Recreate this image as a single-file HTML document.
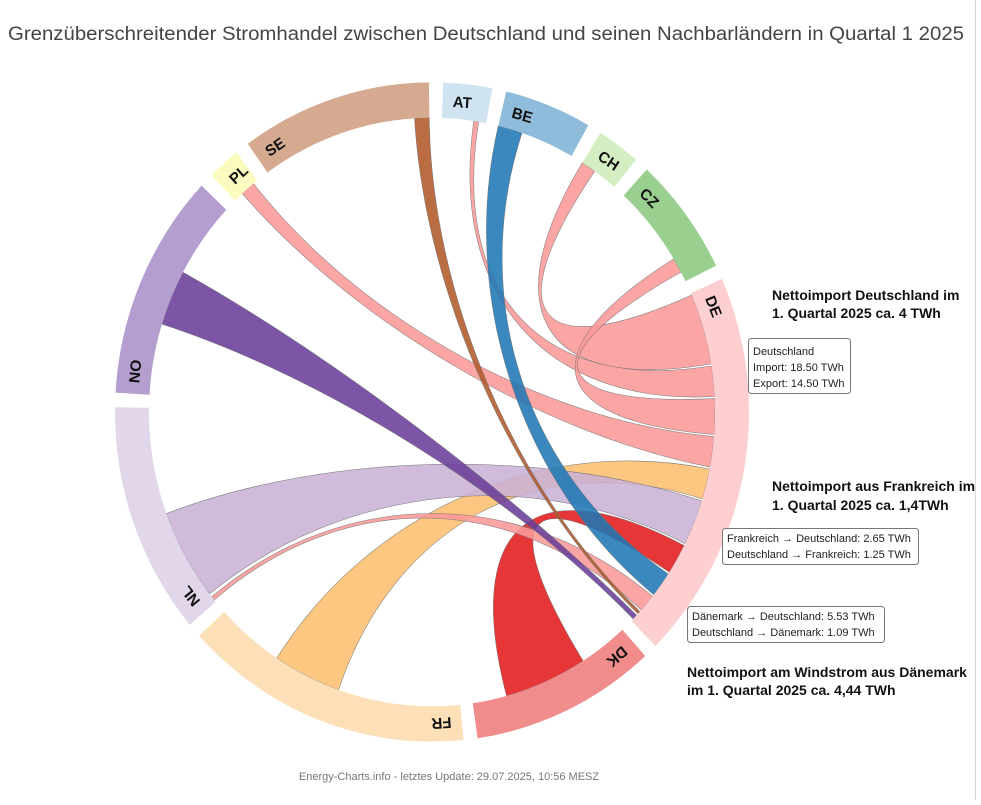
<!DOCTYPE html>
<html><head><meta charset="utf-8">
<style>
html,body{margin:0;padding:0;background:#fff;}
body{width:981px;height:800px;overflow:hidden;font-family:"Liberation Sans",sans-serif;}
</style></head>
<body>
<svg id="chart" width="981" height="800" viewBox="0 0 981 800" xmlns="http://www.w3.org/2000/svg">
  <rect x="0" y="0" width="981" height="800" fill="#fff"/>
  <line x1="975.5" y1="0" x2="975.5" y2="800" stroke="#d8d8d8"/>
  <text x="8" y="40" font-size="19" fill="#444" textLength="956" lengthAdjust="spacingAndGlyphs">Grenzüberschreitender Stromhandel zwischen Deutschland und seinen Nachbarländern in Quartal 1 2025</text>
  <g id="plot" transform="translate(432,412) scale(1,1.04)">
    <g id="chords"></g>
    <g id="ring"></g>
  </g>

  <g font-weight="bold" font-size="14" fill="#111">
    <text x="772" y="300">Nettoimport Deutschland im</text>
    <text x="772" y="318">1. Quartal 2025 ca. 4 TWh</text>
  </g>
  <g font-size="11" fill="#222">
    <rect x="748.5" y="338.5" width="102" height="55" rx="3" fill="#fff" stroke="#777"/>
    <text x="753" y="355">Deutschland</text>
    <text x="753" y="371">Import: 18.50 TWh</text>
    <text x="753" y="387">Export: 14.50 TWh</text>
  </g>
  <g font-weight="bold" font-size="14" fill="#111">
    <text x="772" y="491">Nettoimport aus Frankreich im</text>
    <text x="772" y="510">1. Quartal 2025 ca. 1,4TWh</text>
  </g>
  <g font-size="11" fill="#222">
    <rect x="722.5" y="528.5" width="196" height="36" rx="3" fill="#fff" stroke="#777"/>
    <text x="727" y="542">Frankreich → Deutschland: 2.65 TWh</text>
    <text x="727" y="558">Deutschland → Frankreich: 1.25 TWh</text>
  </g>
  <g font-size="11" fill="#222">
    <rect x="687.5" y="606.5" width="197" height="36" rx="3" fill="#fff" stroke="#777"/>
    <text x="692" y="620">Dänemark → Deutschland: 5.53 TWh</text>
    <text x="692" y="636">Deutschland → Dänemark: 1.09 TWh</text>
  </g>
  <g font-weight="bold" font-size="14" fill="#111">
    <text x="687" y="677">Nettoimport am Windstrom aus Dänemark</text>
    <text x="687" y="695">im 1. Quartal 2025 ca. 4,44 TWh</text>
  </g>
  <text x="449" y="780" font-size="11" fill="#777" text-anchor="middle">Energy-Charts.info - letztes Update: 29.07.2025, 10:56 MESZ</text>
</svg>
<script>
// Ring segments (TWh equivalents)
const countries = ["AT","BE","CH","CZ","DE","DK","FR","NL","NO","PL","SE"];
const ringValues = [4.5, 8, 4, 10.5, 34.5, 17, 26.5, 20.5, 20, 3, 17.5];
const ringColors = ["#cfe3f0","#8fbcda","#d5edc3","#99cf8f","#fdcfd0","#f08c8c","#fde0b8","#e1d6ea","#b39ecf","#fcfbbf","#d6aa90"];
// Chords, listed in DE-side order
const chordCountry = ["CH","AT","CZ","PL","FR","NL","DK","BE","NL","SE","NO"];
const chordSrcOffset = [0, 3.25, 8, 1, 12.5, 1, 5, 0, 0.25, 16, 7];
const chordSrcValue = [1.5, 0.5, 1.5, 1.5, 7, 9, 8.5, 2.5, 0.4, 1.5, 5.5];
const chordDeValue = [7, 3, 3.5, 3, 3, 4.5, 3, 2.5, 1.75, 0.3, 0.5];
const chordColors = ["#fb9a99","#fb9a99","#fb9a99","#fb9a99","#fdbf6f","#cab2d6","#e31a1c","#1f78b4","#fb9a99","#b15928","#6a3d9a"];

const R_OUT = 317, R_IN = 283, START = 2, GAP = 28/11, CURVE = 0.4;
const degPerUnit = (360 - GAP*countries.length) / ringValues.reduce((a,b)=>a+b,0);
const rad = d => d*Math.PI/180;
const pt = (d,r) => [(r*Math.sin(rad(d))).toFixed(2), (-r*Math.cos(rad(d))).toFixed(2)];
const NS = "http://www.w3.org/2000/svg";

const segStart = {}, segEnd = {};
let a = START;
countries.forEach((c,i)=>{ segStart[c]=a; segEnd[c]=a+ringValues[i]*degPerUnit; a = segEnd[c]+GAP; });

function arcTo(d0,d1,r){ const p=pt(d1,r); return `A${r} ${r} 0 ${(d1-d0)>180?1:0} 1 ${p[0]} ${p[1]}`; }

const ringG = document.getElementById('ring');
countries.forEach((c,i)=>{
  const s=segStart[c], e=segEnd[c];
  const p0=pt(s,R_OUT), p1=pt(e,R_IN);
  const path=document.createElementNS(NS,'path');
  path.setAttribute('d',`M${p0[0]} ${p0[1]} ${arcTo(s,e,R_OUT)} L${p1[0]} ${p1[1]} A${R_IN} ${R_IN} 0 ${(e-s)>180?1:0} 0 ${pt(s,R_IN).join(' ')} Z`);
  path.setAttribute('fill',ringColors[i]);
  
  
  ringG.appendChild(path);
  const t=document.createElementNS(NS,'text');
  t.textContent=c;
  t.setAttribute('transform',`rotate(${(s+2).toFixed(2)}) translate(0,${-(R_IN+11)})`);
  t.setAttribute('font-size','15');
  t.setAttribute('font-weight','bold');
  t.setAttribute('fill','#111');
  
  
  ringG.appendChild(t);
});

const chordG = document.getElementById('chords');
const deGap = 0.2;
let deCursor = segStart["DE"] + deGap*degPerUnit;
const rc = R_IN*CURVE;
chordCountry.forEach((c,i)=>{
  const s0 = segStart[c] + chordSrcOffset[i]*degPerUnit;
  const s1 = s0 + chordSrcValue[i]*degPerUnit;
  const t0 = deCursor, t1 = deCursor + chordDeValue[i]*degPerUnit;
  deCursor = t1 + deGap*degPerUnit;
  const ps=pt(s0,R_IN), pt0=pt(t0,R_IN);
  const c1=pt(s1,rc), c2=pt(t0,rc), c3=pt(t1,rc), c4=pt(s0,rc);
  const path=document.createElementNS(NS,'path');
  path.setAttribute('d',`M${ps[0]} ${ps[1]} ${arcTo(s0,s1,R_IN)} C${c1[0]} ${c1[1]} ${c2[0]} ${c2[1]} ${pt0[0]} ${pt0[1]} ${arcTo(t0,t1,R_IN)} C${c3[0]} ${c3[1]} ${c4[0]} ${c4[1]} ${ps[0]} ${ps[1]} Z`);
  path.setAttribute('fill',chordColors[i]);
  path.setAttribute('fill-opacity','0.88');
  path.setAttribute('stroke','#777');
  path.setAttribute('stroke-width','0.5');
  
  
  chordG.appendChild(path);
});
</script>
</body></html>
